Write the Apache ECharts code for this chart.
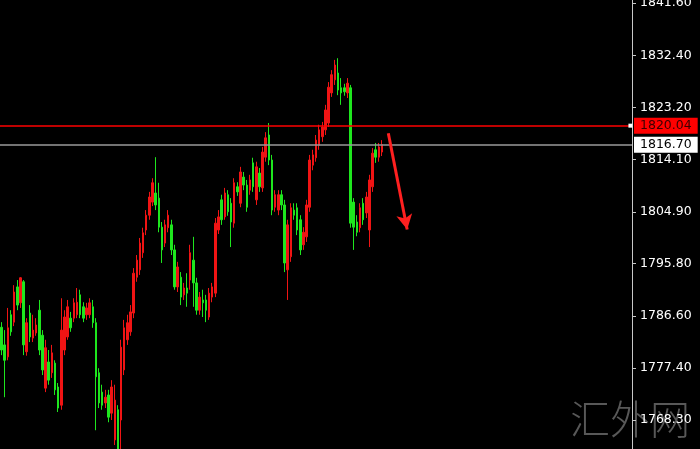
<!DOCTYPE html>
<html>
<head>
<meta charset="utf-8">
<script src="https://cdn.jsdelivr.net/npm/echarts@6/dist/echarts.min.js"></script>
<style>
html,body{margin:0;padding:0;background:#000;}
#c{width:700px;height:449px;}
</style>
</head>
<body>
<div id="c"></div>
<script>
// candles: [open, close, low, high]
const candles = [
[1784.6,1780.6,1779.7,1785.5],[1781.5,1778.8,1772.3,1784.1],[1779.4,1784.5,1778.8,1788.0],[1786.8,1783.8,1783.1,1787.6],
[1785.5,1790.8,1784.8,1792.0],[1791.7,1788.5,1787.6,1792.9],[1788.9,1793.3,1788.0,1793.4],[1792.6,1781.5,1779.7,1792.9],
[1780.3,1785.4,1779.6,1786.2],[1787.1,1782.9,1782.0,1788.5],[1782.7,1784.1,1782.0,1786.8],[1783.6,1785.0,1783.1,1786.2],
[1787.6,1780.6,1779.7,1789.4],[1783.2,1777.1,1776.2,1784.1],[1773.9,1781.0,1773.2,1782.4],[1778.5,1775.3,1774.5,1780.6],
[1776.6,1780.1,1775.7,1781.5],[1778.3,1773.6,1772.7,1778.8],[1774.1,1770.4,1769.7,1774.8],[1770.9,1784.1,1770.1,1789.7],
[1780.6,1786.4,1779.7,1787.6],[1782.9,1788.2,1782.4,1789.4],[1786.2,1784.5,1783.8,1787.3],[1786.2,1788.9,1785.5,1789.7],
[1786.8,1789.0,1786.2,1791.5],[1790.3,1786.8,1786.2,1791.2],[1788.2,1786.2,1785.5,1789.0],[1786.8,1788.0,1785.9,1788.9],
[1786.8,1788.9,1786.2,1789.7],[1788.2,1785.4,1784.5,1789.4],[1785.4,1775.9,1766.5,1786.2],[1776.6,1771.3,1770.4,1777.4],
[1773.2,1770.9,1770.1,1774.5],[1771.3,1772.3,1770.4,1773.6],[1772.7,1768.8,1767.9,1773.6],[1769.5,1774.1,1768.3,1775.3],
[1764.8,1771.8,1763.9,1774.5],[1770.1,1763.2,1762.1,1770.9],[1768.3,1781.1,1763.2,1782.4],[1777.1,1784.5,1776.2,1785.9],
[1782.4,1785.4,1781.5,1786.8],[1783.8,1787.3,1783.1,1788.5],[1787.1,1794.1,1786.2,1795.0],[1793.4,1796.4,1792.6,1797.3],
[1794.7,1799.4,1793.8,1800.3],[1797.7,1801.2,1796.8,1802.1],[1801.7,1804.3,1800.8,1805.2],[1804.3,1807.5,1803.5,1808.4],
[1806.6,1810.0,1805.9,1810.8],[1808.2,1806.1,1805.2,1814.5],[1807.3,1802.2,1801.3,1810.0],[1802.2,1798.2,1795.9,1803.1],
[1799.4,1802.6,1798.7,1803.5],[1802.1,1804.3,1801.3,1805.2],[1802.6,1798.2,1797.3,1803.5],[1798.2,1791.7,1791.2,1799.1],
[1791.7,1795.2,1790.8,1796.1],[1793.4,1789.9,1788.5,1794.3],[1790.3,1791.5,1789.4,1792.4],[1791.5,1790.6,1788.2,1794.1],
[1792.9,1797.7,1791.2,1799.1],[1796.4,1792.4,1788.2,1800.5],[1792.4,1787.6,1786.8,1793.3],[1787.6,1789.9,1786.8,1790.8],
[1789.4,1788.9,1786.4,1791.2],[1789.4,1787.6,1785.5,1790.3],[1786.4,1790.6,1785.9,1791.5],[1789.9,1791.7,1789.0,1792.4],
[1790.6,1802.9,1789.9,1803.8],[1801.7,1804.0,1801.0,1805.2],[1807.0,1803.5,1802.6,1807.9],[1804.0,1808.2,1803.5,1809.1],
[1807.9,1804.9,1804.2,1808.7],[1806.4,1803.1,1798.7,1807.3],[1802.9,1810.0,1802.1,1810.8],[1809.3,1808.4,1807.7,1810.1],
[1806.4,1811.9,1805.7,1812.8],[1811.0,1809.6,1808.7,1811.9],[1809.6,1805.7,1804.9,1810.5],[1808.7,1810.5,1807.9,1811.4],
[1813.5,1809.3,1808.4,1814.4],[1807.0,1812.8,1806.1,1813.7],[1811.7,1809.3,1808.4,1812.6],[1809.1,1815.4,1808.4,1816.3],
[1814.5,1817.9,1813.7,1818.9],[1818.4,1814.0,1813.1,1820.5],[1814.0,1805.2,1804.3,1814.9],[1805.7,1807.9,1804.9,1808.7],
[1805.2,1807.9,1804.3,1808.7],[1807.9,1806.1,1805.2,1808.7],[1806.1,1795.9,1794.3,1807.0],[1794.7,1802.6,1789.4,1803.5],
[1797.0,1805.6,1796.1,1806.4],[1805.2,1804.3,1803.5,1806.4],[1805.6,1801.7,1800.8,1806.4],[1803.5,1798.2,1797.3,1804.3],
[1799.1,1801.3,1798.2,1802.2],[1800.5,1806.1,1799.6,1807.0],[1805.7,1814.0,1804.9,1814.9],[1813.1,1814.9,1812.2,1815.8],
[1814.4,1817.5,1813.7,1818.4],[1816.6,1819.3,1815.8,1820.2],[1818.1,1819.8,1817.2,1820.7],[1819.3,1822.8,1818.4,1823.7],
[1820.5,1826.8,1819.8,1827.7],[1825.8,1829.0,1825.1,1829.8],[1828.1,1830.7,1827.2,1831.6],[1829.3,1826.3,1825.4,1831.9],
[1826.7,1825.8,1823.7,1828.4],[1826.7,1826.0,1825.3,1827.4],[1825.8,1827.5,1824.9,1828.4],[1826.7,1802.9,1802.1,1827.2],
[1806.6,1802.2,1798.2,1807.3],[1803.1,1801.3,1800.6,1804.3],[1802.1,1805.6,1801.3,1806.4],[1806.4,1803.5,1802.6,1807.3],
[1804.7,1807.5,1803.8,1808.4],[1801.7,1810.5,1798.7,1811.4],[1809.3,1815.2,1808.4,1816.1],[1815.8,1814.5,1813.5,1817.0],
[1814.5,1816.3,1813.7,1817.0],[1815.4,1816.7,1814.7,1817.5]
];
const slotCount = 201;
const categories = Array.from({length: slotCount}, (_, i) => String(i));
const tickValues = [1768.30, 1777.40, 1786.60, 1795.80, 1804.90, 1814.10, 1823.20, 1832.40, 1841.60];
const resistanceLevel = 1820.04;
const currentPrice = 1816.70;
const arrowFrom = ['123', 1818.7];
const arrowTo = ['129', 1801.8];
const watermarkText = '汇外网';

const chart = echarts.init(document.getElementById('c'));
const labelFont = {fontFamily: 'DejaVu Sans', fontSize: 12.5};
chart.setOption({
  backgroundColor: '#000',
  animation: false,
  grid: {left: 0, right: 68, top: 0, bottom: 0, containLabel: false, outerBoundsMode: 'none'},
  xAxis: {
    type: 'category', data: categories, boundaryGap: true,
    axisLine: {show: false}, axisTick: {show: false}, axisLabel: {show: false}, splitLine: {show: false}
  },
  yAxis: {
    type: 'value', position: 'right', min: 1763.2, max: 1842.13,
    splitLine: {show: false},
    axisLine: {show: true, lineStyle: {color: '#c8c8c8', width: 1}},
    axisTick: {show: true, length: 4, customValues: tickValues, lineStyle: {color: '#c8c8c8'}},
    axisLabel: {
      show: true, customValues: tickValues, margin: 8, color: '#ffffff',
      formatter: v => Number(v).toFixed(2), ...labelFont
    }
  },
  graphic: [{
    type: 'text', left: 570, top: 399, z: 0, silent: true,
    style: {text: watermarkText, fill: 'rgba(110,110,110,0.8)', font: '300 40px "Noto Sans CJK SC"'}
  }],
  series: [{
    type: 'candlestick',
    data: candles,
    barWidth: 2,
    itemStyle: {color: '#f01414', color0: '#1ee61e', borderColor: '#f01414', borderColor0: '#1ee61e', borderWidth: 1},
    markLine: {
      silent: true, symbol: 'none', animation: false,
      data: [
        {yAxis: resistanceLevel, lineStyle: {color: '#ff0000', width: 1.6, type: 'solid', opacity: 1},
          label: {show: true, position: 'end', distance: 2, formatter: resistanceLevel.toFixed(2),
            backgroundColor: '#ff0000', color: '#3a0000', padding: [2, 6, 1, 6], ...labelFont}},
        {yAxis: currentPrice, lineStyle: {color: '#9a9a9a', width: 1.5, type: 'solid'},
          label: {show: true, position: 'end', distance: 2, formatter: currentPrice.toFixed(2),
            backgroundColor: '#ffffff', color: '#000000', padding: [2, 6, 1, 6], ...labelFont}},
        [
          {coord: arrowFrom, symbol: 'none', lineStyle: {color: '#ff2020', width: 3, type: 'solid'}},
          {coord: arrowTo, symbol: 'arrow', symbolSize: [12, 15]}
        ]
      ]
    },
    markPoint: {
      silent: true, animation: false,
      data: [{coord: [String(slotCount - 1), resistanceLevel], symbol: 'rect', symbolSize: 4,
        itemStyle: {color: '#ffffff'}, label: {show: false}}]
    }
  }]
});
</script>
</body>
</html>
